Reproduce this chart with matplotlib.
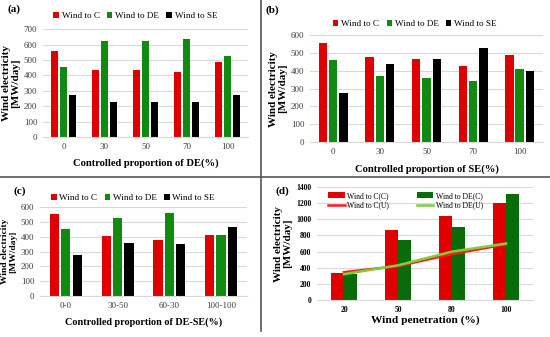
import numpy as np
import matplotlib
matplotlib.use("Agg")
import matplotlib.pyplot as plt
from matplotlib.lines import Line2D

plt.rcParams['font.family'] = ['Liberation Serif', 'DejaVu Serif']

# ---- data ----
cats_a = ['0', '30', '50', '70', '100']
a_c = [555, 435, 435, 425, 485]
a_de = [455, 625, 625, 635, 525]
a_se = [275, 225, 228, 225, 272]

cats_b = ['0', '30', '50', '70', '100']
b_c = [555, 477, 465, 425, 490]
b_de = [458, 372, 357, 340, 407]
b_se = [275, 440, 468, 525, 397]

cats_c = ['0-0', '30-50', '60-30', '100-100']
c_c = [555, 405, 380, 410]
c_de = [455, 525, 560, 412]
c_se = [275, 360, 348, 465]

cats_d = ['20', '50', '80', '100']
d_c_c = [340, 870, 1040, 1200]
d_de_c = [320, 740, 910, 1315]
d_c_u = [345, 420, 570, 690]
d_de_u = [320, 430, 600, 700]

RED = '#E00000'
GREEN = '#128A12'
DGREEN = '#0A6B0A'
BLACK = '#000000'
GRID = '#D9D9D9'

fig = plt.figure(figsize=(5.5, 3.37), dpi=100)


def style(ax, ymax, step):
    ax.set_ylim(0, ymax)
    ax.set_yticks(np.arange(0, ymax + 1, step))
    ax.yaxis.grid(True, color=GRID, linewidth=0.8)
    ax.set_axisbelow(True)
    for s in ['top', 'right', 'left']:
        ax.spines[s].set_visible(False)
    ax.spines['bottom'].set_color(GRID)
    ax.tick_params(length=0, labelsize=6.5, colors='#404040', pad=4)


def three_bars(ax, cats, c, de, se, ymax, step, xlabel, xl_size, yl_size, leg_y):
    x = np.arange(len(cats))
    w = 0.18
    ax.bar(x - 0.22, c, w, color=RED, label='Wind to C')
    ax.bar(x, de, w, color=GREEN, label='Wind to DE')
    ax.bar(x + 0.22, se, w, color=BLACK, label='Wind to SE')
    ax.set_xticks(x)
    ax.set_xticklabels(cats)
    ax.set_xlim(-0.5, len(cats) - 0.5)
    style(ax, ymax, step)
    ax.set_xlabel(xlabel, fontsize=xl_size, fontweight='bold', labelpad=6)
    ax.set_ylabel('Wind electricity\n[MW/day]', fontsize=yl_size, fontweight='bold',
                  linespacing=1.0, labelpad=3)
    ax.legend(loc='center', bbox_to_anchor=(0.45, leg_y), ncol=3, frameon=False,
              fontsize=6.6, handlelength=0.6, handleheight=0.6, handletextpad=0.3,
              columnspacing=0.8)


ax_a = fig.add_axes([0.078, 0.5935, 0.373, 0.320])
three_bars(ax_a, cats_a, a_c, a_de, a_se, 700, 100,
           'Controlled proportion of DE(%)', 7.6, 8, 1.12)

ax_b = fig.add_axes([0.5636, 0.5786, 0.4236, 0.3175])
three_bars(ax_b, cats_b, b_c, b_de, b_se, 600, 100,
           'Controlled proportion of SE(%)', 7.6, 8, 1.10)

ax_c = fig.add_axes([0.0727, 0.1217, 0.376, 0.264])
three_bars(ax_c, cats_c, c_c, c_de, c_se, 600, 100,
           'Controlled proportion of DE-SE(%)', 7.3, 6.8, 1.10)

# ---- panel (d) ----
ax_d = fig.add_axes([0.5764, 0.1098, 0.3927, 0.335])
xd = np.arange(len(cats_d))
b1 = ax_d.bar(xd - 0.12, d_c_c, 0.24, color=RED, label='Wind to C(C)')
b2 = ax_d.bar(xd + 0.12, d_de_c, 0.24, color=DGREEN, label='Wind to DE(C)')
l1, = ax_d.plot(xd, d_c_u, color='#FF1A1A', linewidth=1.8, label='Wind to C(U)')
l2, = ax_d.plot(xd, d_de_u, color='#7CD03A', linewidth=1.8, label='Wind to DE(U)')
ax_d.set_xticks(xd)
ax_d.set_xticklabels(cats_d, fontweight='bold')
ax_d.set_xlim(-0.5, len(cats_d) - 0.5)
style(ax_d, 1400, 200)
for t in ax_d.get_yticklabels():
    t.set_fontweight('bold')
ax_d.tick_params(labelsize=5.5, colors='black')
ax_d.set_xlabel('Wind penetration (%)', fontsize=8.2, fontweight='bold', labelpad=1)
ax_d.set_ylabel('Wind electricity\n[MW/day]', fontsize=8, fontweight='bold',
                linespacing=1.0, labelpad=3)
# column-wise fill: first column C(C), C(U); second column DE(C), DE(U)
handles = [b1, l1, b2, l2]
ax_d.legend(handles, [hh.get_label() for hh in handles], loc='upper left',
            bbox_to_anchor=(0.02, 1.02), ncol=2, frameon=False, fontsize=5.5,
            handlelength=2.2, handleheight=0.8, handletextpad=0.3,
            columnspacing=3.6, labelspacing=0.25)

# panel letters
fig.text(8 / 550, 1 - 9 / 337, '(a)', fontsize=8, fontweight='bold', va='center')
fig.text(266 / 550, 1 - 10 / 337, '(b)', fontsize=8, fontweight='bold', va='center')
fig.text(14 / 550, 1 - 191 / 337, '(c)', fontsize=8, fontweight='bold', va='center')
fig.text(276 / 550, 1 - 191 / 337, '(d)', fontsize=8, fontweight='bold', va='center')

# separator lines
fig.add_artist(Line2D([0, 1], [1 - 177 / 337, 1 - 177 / 337], color='#555555',
                      linewidth=1.2, transform=fig.transFigure))
fig.add_artist(Line2D([261 / 550, 261 / 550], [1, 1 - 331 / 337], color='#555555',
                      linewidth=1.2, transform=fig.transFigure))

fig.savefig('out.png', dpi=100)
